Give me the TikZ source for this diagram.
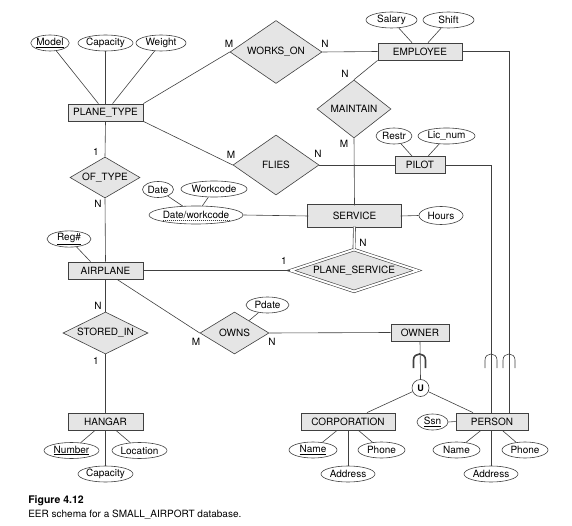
\documentclass[tikz,border=0pt]{standalone}
\usepackage{fontspec}
\setmainfont{TeX Gyre Heros}
\usetikzlibrary{shapes.geometric}

\definecolor{boxgray}{gray}{0.9}
\definecolor{linegray}{gray}{0.25}

\begin{document}
\begin{tikzpicture}[x=1pt, y=-1pt, color=linegray, line width=0.6pt,
    font=\fontsize{10}{12}\selectfont,
    every node/.append style={text=black},
    entity/.style={rectangle, draw=linegray, fill=boxgray, line width=0.8pt,
      inner sep=0pt, minimum height=17pt, minimum width=#1},
    attr/.style={ellipse, draw=linegray, fill=white, inner sep=0pt,
      minimum height=16pt, minimum width=#1},
    rel/.style 2 args={diamond, draw=linegray, fill=boxgray, inner sep=0pt,
      aspect=2.5, minimum width=#1, minimum height=#2},
    card/.style={inner sep=0pt}]
  \useasboundingbox (0,0) rectangle (572,526);

  % entities
  \node[entity=75] (ptype) at (105.5,112.5) {PLANE\_TYPE};
  \node[entity=84] (emp) at (420,51.5) {EMPLOYEE};
  \node[entity=50] (pilot) at (420,165) {PILOT};
  \node[entity=91.5, minimum height=20.5pt, line width=0.6pt,
        double=boxgray, double distance=2.2pt] (svc) at (354.5,216) {SERVICE};
  \node[entity=75] (plane) at (105.5,270.5) {AIRPLANE};
  \node[entity=58] (owner) at (420,332.5) {OWNER};
  \node[entity=75] (hangar) at (105.5,421.5) {HANGAR};
  \node[entity=94] (corp) at (348,421.5) {CORPORATION};
  \node[entity=72] (person) at (492,421.5) {PERSON};

  % relationships
  \node[rel={92}{63}] (works) at (276,52) {WORKS\_ON};
  \node[rel={74}{58}] (maint) at (354,109) {MAINTAIN};
  \node[rel={86}{60}] (flies) at (276,165) {FLIES};
  \node[rel={70}{41}] (oftype) at (105,177.5) {OF\_TYPE};
  \node[rel={127}{41}, double, double distance=2pt] (psvc) at (354,270.5) {PLANE\_SERVICE};
  \node[rel={85}{42}] (stored) at (105.5,333) {STORED\_IN};
  \node[rel={69}{42}] (owns) at (234.5,333) {OWNS};

  % attributes
  \node[attr=36] (model) at (50,43) {\underline{Model}};
  \node[attr=53] (capA) at (105.5,43) {Capacity};
  \node[attr=50] (weight) at (161,43) {Weight};
  \node[attr=51] (salary) at (391.5,20) {Salary};
  \node[attr=51] (shift) at (448.5,20) {Shift};
  \node[attr=36] (restr) at (394,136) {Restr};
  \node[attr=57] (licnum) at (446.5,136) {Lic\_num};
  \node[attr=31] (date) at (158,189.5) {Date};
  \node[attr=66] (wcode) at (214,189) {Workcode};
  \node[attr=93, minimum height=18pt] (dwcode) at (196,215) {Date/workcode};
  \node[attr=44, minimum height=18pt] (hours) at (441,215.5) {Hours};
  \node[attr=44, minimum height=14pt] (reg) at (69,239) {\underline{Reg\#}};
  \node[attr=43] (pdate) at (267.5,305) {Pdate};
  \node[attr=55] (hnum) at (71.5,450.5) {\underline{Number}};
  \node[attr=55] (hloc) at (139.5,450.5) {Location};
  \node[attr=53] (hcap) at (105.5,474) {Capacity};
  \node[attr=48] (cname) at (313,450) {\underline{Name}};
  \node[attr=47] (cphone) at (381.5,450) {Phone};
  \node[attr=54] (caddr) at (348,474) {Address};
  \node[attr=31] (ssn) at (432.5,422) {\underline{Ssn}};
  \node[attr=47] (pname) at (456.5,450) {Name};
  \node[attr=46] (pphone) at (525,450) {Phone};
  \node[attr=54] (paddr) at (491,474) {Address};
  % partial key
  \draw[line width=0.4pt, dash pattern=on 1pt off 1pt]
    ([xshift=-33.5pt, yshift=-1.8pt]dwcode.base) -- ([xshift=33.5pt, yshift=-1.8pt]dwcode.base);

  % union circle
  \node[circle, draw=linegray, fill=white, minimum size=17pt, inner sep=0pt,
        font=\bfseries\fontsize{9}{9}\selectfont] (uni) at (420.5,388) {U};

  % connectors
  \draw (model) -- (ptype);
  \draw (capA) -- (ptype);
  \draw (weight) -- (ptype);
  \draw (ptype.north east) -- (works.west);
  \draw (ptype.south east) -- (flies.west);
  \draw (works.east) -- (emp.west);
  \draw (salary) -- (emp);
  \draw (shift) -- (emp);
  \draw (emp.south west) -- (maint.north);
  \draw (maint.south) -- (svc.north);
  \draw (flies.east) -- (pilot.west);
  \draw (restr) -- (pilot);
  \draw (licnum) -- (pilot);
  \draw (ptype.south) -- (oftype.north);
  \draw (oftype.south) -- (plane.north);
  \draw (date) -- (dwcode);
  \draw (wcode) -- (dwcode);
  \draw (dwcode.east) -- (svc.west);
  \draw (svc.east) -- (hours.west);
  \draw[double, double distance=1.5pt] (svc.south) -- (psvc.north);
  \draw (reg) -- ([xshift=-15pt]plane.north);
  \draw (plane.east) -- (psvc.west);
  \draw (plane.south) -- (stored.north);
  \draw (stored.south) -- (hangar.north);
  \draw ([xshift=11.5pt]plane.south) -- (owns.west);
  \draw (pdate) -- (owns);
  \draw (owns.east) -- (owner.west);
  \draw (hnum) -- (hangar);
  \draw (hloc) -- (hangar);
  \draw (hangar.south) -- (hcap.north);
  \draw (owner.south) -- (uni.north);
  \draw (uni) -- ([xshift=19pt]corp.north);
  \draw (uni) -- ([xshift=-19pt]person.north);
  \draw (emp.east) -| ([xshift=17pt]person.north);
  \draw (pilot.east) -| ([xshift=-1pt]person.north);
  \draw (cname) -- (corp);
  \draw (cphone) -- (corp);
  \draw (corp.south) -- (caddr.north);
  \draw (ssn.east) -- (person.west);
  \draw (pname) -- (person);
  \draw (pphone) -- (person);
  \draw (paddr.north) -- (paddr.north |- person.south);

  % subset marks
  \draw[line width=1.6pt] (413.5,368) -- (413.5,360)
    .. controls (413.5,352) and (425.5,352) .. (425.5,360) -- (425.5,368);
  \foreach \sx in {491,509}
    \draw (\sx-6,368) -- (\sx-6,360)
      .. controls (\sx-6,352) and (\sx+6,352) .. (\sx+6,360) -- (\sx+6,368);

  % cardinalities
  \node[card] (cw1) at (229,44) {M};
  \node[card] (cw2) at (325,44) {N};
  \node[card] (cm1) at (345,74) {N};
  \node[card] (cm2) at (344,144) {M};
  \node[card] (cf1) at (231,155) {M};
  \node[card] (cf2) at (318,154) {N};
  \node[card] (co1) at (96,152) {1};
  \node[card] (co2) at (98,204) {N};
  \node[card] (cp1) at (284,261) {1};
  \node[card] (cp2) at (363,243) {N};
  \node[card] (cs1) at (98,306) {N};
  \node[card] (cs2) at (96,361) {1};
  \node[card] (cn1) at (196,342) {M};
  \node[card] (cn2) at (272,342) {N};

  % caption
  \node[anchor=west, inner sep=0pt, font=\bfseries\fontsize{10.5}{12}\selectfont]
    (fig) at (28,501) {Figure 4.12};
  \node[anchor=west, inner sep=0pt] (caption) at (28,515)
    {EER schema for a SMALL\_AIRPORT database.};
\end{tikzpicture}
\end{document}
